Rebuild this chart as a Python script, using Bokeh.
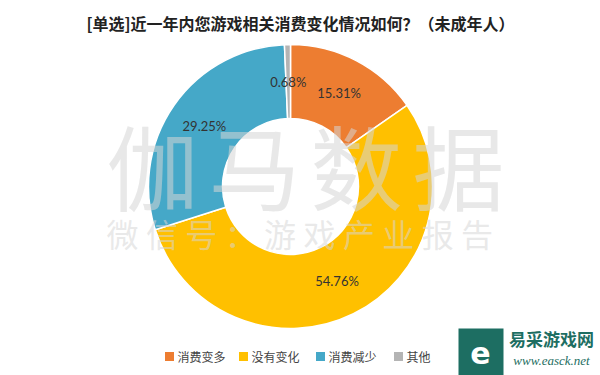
from bokeh.plotting import figure
from bokeh.models import ColumnDataSource
from bokeh.core.properties import value
from bokeh.embed import file_html
from bokeh.resources import INLINE
import math

categories = ["消费变多", "没有变化", "消费减少", "其他"]
values = [15.31, 54.76, 29.25, 0.68]
labels = ["15.31%", "54.76%", "29.25%", "0.68%"]
colors = ["#ED7D31", "#FFC000", "#45A8C8", "#B4B4B4"]

W, H = 600, 375
FONT = value("Noto Sans CJK SC")

p = figure(width=W, height=H, x_range=(0, W), y_range=(0, H),
           output_backend="svg", toolbar_location=None, min_border=0)
p.axis.visible = False
p.grid.visible = False
p.outline_line_color = None
p.background_fill_color = "white"
p.border_fill_color = "white"

cx, cy = 290, H - 186
r_in, r_out = 68, 142

total = sum(values)
starts, ends, lx, ly = [], [], [], []
cum = 0.0
for v in values:
    a0 = math.pi / 2 - cum / total * 2 * math.pi
    cum += v
    a1 = math.pi / 2 - cum / total * 2 * math.pi
    starts.append(a0)
    ends.append(a1)
    mid = (a0 + a1) / 2
    rr = (r_in + r_out) / 2
    lx.append(cx + rr * math.cos(mid))
    ly.append(cy + rr * math.sin(mid))

src = ColumnDataSource(dict(start=starts, end=ends, color=colors, cat=categories,
                            lx=lx, ly=ly, lab=labels))
p.annular_wedge(x=cx, y=cy, inner_radius=r_in, outer_radius=r_out,
                start_angle="start", end_angle="end", direction="clock",
                fill_color="color", line_color="white", line_width=1.5, source=src)

# watermark
wm1 = list("伽马数据")
p.text(x=[152 + i * 102 for i in range(4)], y=[H - 163] * 4, text=wm1,
       text_font=FONT, text_font_size="92px", text_color="#d6d6d6", text_alpha=0.55,
       text_align="center", text_baseline="middle")
wm2 = list("微信号：游戏产业报告")
p.text(x=[122 + i * 39.4 for i in range(10)], y=[H - 232] * 10, text=wm2,
       text_font=FONT, text_font_size="32px", text_color="#d6d6d6", text_alpha=0.55,
       text_align="center", text_baseline="middle")

# slice labels
p.text(x="lx", y="ly", text="lab", source=src, text_font=value("Lato"),
       text_font_size="13px", text_color="#333333", text_align="center",
       text_baseline="middle")

# title
p.text(x=[W / 2], y=[H - 22], text=["[单选]近一年内您游戏相关消费变化情况如何？（未成年人）"],
       text_font=FONT, text_font_size="16px", text_font_style="bold",
       text_color="#222222", text_align="center", text_baseline="middle")

# legend
leg_y = H - 356
sq_x = [169, 243, 320, 398]
p.scatter(x=sq_x, y=[leg_y] * 4, marker="square", size=9, fill_color=colors,
          line_color=None)
p.text(x=[x + 8 for x in sq_x], y=[leg_y] * 4, text=categories, text_font=FONT,
       text_font_size="12px", text_color="#444444", text_align="left",
       text_baseline="middle")

# site logo
p.quad(left=[458], right=[503], bottom=[0], top=[H - 328], fill_color="#1D6E62",
       line_color=None)
p.text(x=[480], y=[H - 352], text=["e"], text_font=value("DejaVu Sans"),
       text_font_size="30px", text_font_style="bold", text_color="white",
       text_align="center", text_baseline="middle")
p.text(x=[551], y=[H - 338], text=["易采游戏网"], text_font=FONT,
       text_font_size="17px", text_font_style="bold", text_color="#1D6E62",
       text_align="center", text_baseline="middle")
p.text(x=[551], y=[H - 360], text=["www.easck.net"], text_font=value("Liberation Serif"),
       text_font_size="13px", text_font_style="italic", text_color="#1D6E62",
       text_align="center", text_baseline="middle")

open("out.html", "w").write(file_html(p, INLINE))
